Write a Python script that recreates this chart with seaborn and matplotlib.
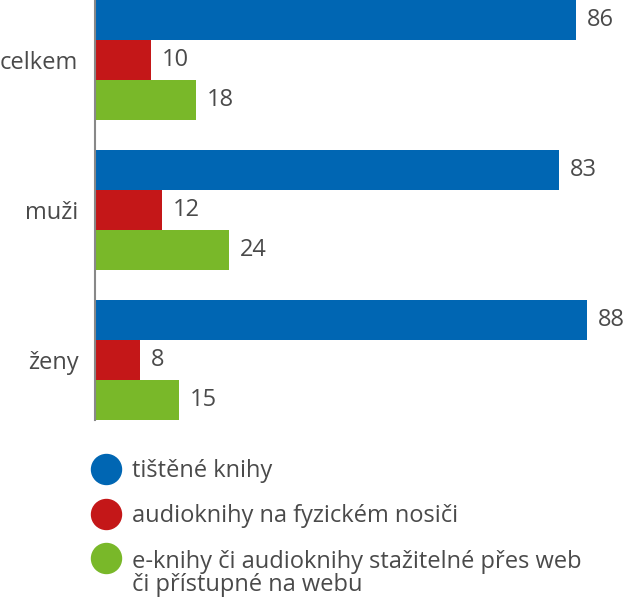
import matplotlib
matplotlib.use("Agg")
import matplotlib.pyplot as plt
import pandas as pd
import seaborn as sns
from matplotlib.lines import Line2D

groups = ["celkem", "muži", "ženy"]
series = [
    "tištěné knihy",
    "audioknihy na fyzickém nosiči",
    "e-knihy či audioknihy stažitelné přes web\nči přístupné na webu",
]
printed = [86, 83, 88]
audio = [10, 12, 8]
ebooks = [18, 24, 15]
colors = ["#0066b3", "#c41718", "#79b829"]

sns.set_style("white")
plt.rcParams["font.family"] = ["Open Sans", "DejaVu Sans"]
plt.rcParams["font.size"] = 17
plt.rcParams["text.color"] = "#4a4a4a"

df = pd.DataFrame({
    "group": groups * 3,
    "value": printed + audio + ebooks,
    "series": [series[0]] * 3 + [series[1]] * 3 + [series[2]] * 3,
})

fig = plt.figure(figsize=(6.25, 6), dpi=100)
ax = fig.add_axes([95 / 625, 180 / 600, 530 / 625, 420 / 600])

sns.barplot(
    data=df, x="value", y="group", hue="series", orient="h",
    palette=colors, saturation=1, width=0.8, gap=0, edgecolor="none",
    legend=False, ax=ax,
)

for c in ax.containers:
    labels = ax.bar_label(c, padding=8, fontsize=17, color="#4a4a4a")
    for t in labels:
        t.set_clip_on(False)

ax.set_xlim(0, 94.8)
ax.set_ylim(2.4, -0.4)
ax.set_xlabel("")
ax.set_ylabel("")
ax.set_xticks([])
ax.tick_params(axis="y", length=0, pad=12, labelsize=17, labelcolor="#4a4a4a")
for s in ["top", "right", "bottom"]:
    ax.spines[s].set_visible(False)
ax.spines["left"].set_color("#888888")
ax.spines["left"].set_linewidth(1.5)

handles = [
    Line2D([], [], marker="o", linestyle="", markersize=21.6,
           markerfacecolor=col, markeredgecolor=col)
    for col in colors
]
leg = fig.legend(
    handles, series, loc="upper left", bbox_to_anchor=(92 / 625, 1 - 459 / 600),
    frameon=False, fontsize=17, handletextpad=0.5, labelspacing=0.9,
    handlelength=1.2, borderpad=0, borderaxespad=0,
)
for t in leg.get_texts():
    t.set_linespacing(0.95)
# keep the circle of the two-line entry level with its first line
try:
    rows = leg._legend_handle_box.get_children()[0].get_children()
    rows[2].align = "top"
except Exception:
    pass

fig.savefig("out.png", dpi=100)
